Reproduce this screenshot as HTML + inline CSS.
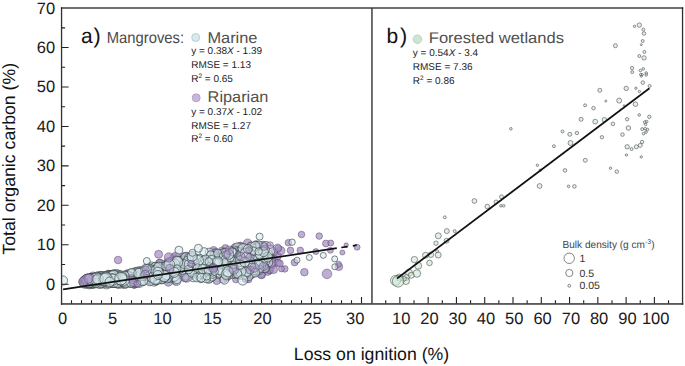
<!DOCTYPE html><html><head><meta charset="utf-8"><style>html,body{margin:0;padding:0;background:#fff;width:685px;height:366px;overflow:hidden}svg{display:block}text{font-family:"Liberation Sans",sans-serif;text-rendering:geometricPrecision}.p{fill:#a48bc2;fill-opacity:.7;stroke:#4a3a5c;stroke-opacity:.75;stroke-width:.6}.o{fill-opacity:.5}.q{fill:#d4e8ec;fill-opacity:.55;stroke:#363f41;stroke-opacity:.9;stroke-width:.7}.g{fill:#cde8d4;fill-opacity:.6;stroke:#333;stroke-opacity:.85;stroke-width:.6}</style></head><body>
<svg width="685" height="366" viewBox="0 0 685 366">
<defs><clipPath id="ca"><rect x="61.5" y="8" width="310" height="295.5"/></clipPath><clipPath id="cb"><rect x="371.5" y="8" width="311" height="295.5"/></clipPath></defs>
<g clip-path="url(#ca)">
<circle class="p" cx="213.7" cy="254.1" r="3.4"/>
<circle class="p" cx="108.6" cy="274.0" r="3.9"/>
<circle class="p" cx="190.7" cy="271.8" r="3.8"/>
<circle class="p" cx="269.8" cy="270.4" r="3.6"/>
<circle class="p" cx="92.9" cy="276.5" r="4.5"/>
<circle class="p" cx="260.4" cy="256.0" r="4.4"/>
<circle class="p" cx="238.8" cy="268.0" r="4.3"/>
<circle class="p" cx="104.8" cy="281.3" r="3.5"/>
<circle class="p" cx="254.3" cy="266.9" r="3.5"/>
<circle class="p" cx="126.8" cy="273.8" r="3.7"/>
<circle class="p" cx="162.3" cy="268.7" r="4.5"/>
<circle class="p" cx="223.8" cy="253.6" r="3.4"/>
<circle class="p" cx="108.4" cy="276.3" r="3.8"/>
<circle class="p" cx="254.6" cy="267.2" r="3.7"/>
<circle class="p" cx="115.6" cy="277.1" r="3.9"/>
<circle class="p" cx="259.6" cy="270.6" r="4.3"/>
<circle class="p" cx="199.6" cy="269.2" r="4.2"/>
<circle class="p" cx="130.3" cy="281.3" r="4.4"/>
<circle class="p" cx="119.8" cy="280.8" r="3.2"/>
<circle class="p" cx="84.4" cy="280.0" r="3.4"/>
<circle class="p" cx="213.6" cy="251.2" r="4.6"/>
<circle class="p" cx="273.7" cy="258.3" r="3.7"/>
<circle class="p" cx="159.9" cy="263.0" r="3.9"/>
<circle class="p" cx="197.7" cy="267.7" r="4.2"/>
<circle class="p" cx="173.5" cy="257.3" r="3.5"/>
<circle class="p" cx="154.0" cy="274.3" r="4.2"/>
<circle class="p" cx="190.8" cy="275.2" r="3.5"/>
<circle class="p" cx="100.6" cy="278.3" r="4.1"/>
<circle class="p" cx="103.2" cy="276.9" r="4.1"/>
<circle class="p" cx="216.1" cy="264.0" r="3.2"/>
<circle class="p" cx="210.0" cy="267.4" r="4.1"/>
<circle class="p" cx="258.9" cy="252.2" r="4.3"/>
<circle class="p" cx="215.5" cy="251.8" r="3.3"/>
<circle class="p" cx="254.0" cy="258.4" r="4.4"/>
<circle class="p" cx="105.4" cy="279.0" r="3.9"/>
<circle class="p" cx="225.4" cy="247.8" r="3.3"/>
<circle class="p" cx="172.0" cy="268.9" r="3.6"/>
<circle class="p" cx="213.9" cy="262.2" r="4.3"/>
<circle class="p" cx="256.2" cy="257.7" r="3.3"/>
<circle class="p" cx="134.5" cy="285.1" r="3.3"/>
<circle class="p" cx="196.8" cy="264.1" r="3.6"/>
<circle class="p" cx="99.2" cy="275.0" r="3.8"/>
<circle class="p" cx="108.2" cy="274.3" r="3.3"/>
<circle class="p" cx="114.4" cy="280.5" r="3.4"/>
<circle class="p" cx="127.9" cy="274.3" r="4.6"/>
<circle class="p" cx="267.7" cy="271.5" r="3.9"/>
<circle class="p" cx="136.3" cy="280.9" r="3.9"/>
<circle class="p" cx="258.9" cy="270.5" r="3.3"/>
<circle class="p" cx="128.9" cy="281.8" r="3.6"/>
<circle class="p" cx="142.3" cy="276.9" r="3.4"/>
<circle class="p" cx="233.9" cy="265.5" r="4.4"/>
<circle class="p" cx="223.2" cy="279.2" r="4.0"/>
<circle class="p" cx="233.4" cy="257.7" r="3.6"/>
<circle class="p" cx="148.1" cy="268.3" r="3.7"/>
<circle class="p" cx="199.9" cy="266.8" r="4.4"/>
<circle class="p" cx="264.8" cy="266.2" r="4.2"/>
<circle class="p" cx="129.8" cy="279.8" r="4.1"/>
<circle class="p" cx="145.1" cy="277.3" r="4.3"/>
<circle class="p" cx="237.1" cy="271.5" r="4.5"/>
<circle class="p" cx="202.9" cy="273.2" r="3.3"/>
<circle class="p" cx="226.8" cy="276.9" r="4.3"/>
<circle class="p" cx="96.4" cy="280.0" r="3.3"/>
<circle class="p" cx="230.3" cy="256.4" r="4.5"/>
<circle class="p" cx="247.2" cy="276.0" r="3.9"/>
<circle class="p" cx="140.5" cy="273.7" r="4.4"/>
<circle class="p" cx="178.4" cy="272.7" r="3.9"/>
<circle class="p" cx="149.8" cy="281.5" r="3.7"/>
<circle class="p" cx="232.9" cy="260.4" r="4.0"/>
<circle class="p" cx="162.1" cy="276.9" r="3.3"/>
<circle class="p" cx="124.2" cy="278.7" r="4.2"/>
<circle class="p" cx="278.0" cy="262.7" r="3.7"/>
<circle class="p" cx="239.6" cy="255.3" r="3.6"/>
<circle class="p" cx="117.7" cy="280.1" r="4.0"/>
<circle class="p" cx="271.5" cy="265.5" r="4.0"/>
<circle class="p" cx="246.0" cy="250.2" r="4.5"/>
<circle class="p" cx="175.4" cy="280.5" r="4.5"/>
<circle class="p" cx="253.9" cy="264.7" r="3.4"/>
<circle class="p" cx="161.1" cy="267.9" r="4.0"/>
<circle class="p" cx="169.2" cy="262.7" r="3.3"/>
<circle class="p" cx="126.9" cy="276.1" r="3.6"/>
<circle class="p" cx="239.6" cy="270.6" r="4.0"/>
<circle class="p" cx="213.8" cy="267.0" r="4.2"/>
<circle class="p" cx="256.3" cy="244.3" r="3.8"/>
<circle class="p" cx="200.4" cy="268.2" r="4.6"/>
<circle class="p" cx="113.0" cy="278.7" r="3.8"/>
<circle class="p" cx="99.1" cy="279.0" r="3.5"/>
<circle class="p" cx="164.0" cy="277.2" r="4.6"/>
<circle class="p" cx="191.8" cy="255.5" r="3.4"/>
<circle class="p" cx="277.6" cy="256.1" r="3.7"/>
<circle class="p" cx="209.9" cy="265.9" r="3.7"/>
<circle class="p" cx="239.0" cy="256.5" r="4.2"/>
<circle class="p" cx="251.9" cy="257.5" r="3.8"/>
<circle class="p" cx="239.3" cy="265.5" r="4.3"/>
<circle class="p" cx="145.7" cy="275.0" r="4.5"/>
<circle class="p" cx="247.7" cy="243.2" r="4.3"/>
<circle class="p" cx="171.3" cy="273.9" r="3.9"/>
<circle class="p" cx="253.6" cy="259.0" r="4.1"/>
<circle class="p" cx="154.3" cy="274.5" r="4.1"/>
<circle class="p" cx="149.9" cy="272.9" r="4.5"/>
<circle class="p" cx="112.8" cy="275.6" r="4.2"/>
<circle class="p" cx="125.2" cy="278.5" r="3.3"/>
<circle class="p" cx="269.4" cy="269.6" r="4.0"/>
<circle class="p" cx="252.8" cy="248.5" r="3.8"/>
<circle class="p" cx="240.6" cy="245.9" r="3.7"/>
<circle class="p" cx="261.6" cy="274.8" r="4.0"/>
<circle class="p" cx="93.7" cy="279.0" r="3.4"/>
<circle class="p" cx="113.2" cy="281.2" r="3.5"/>
<circle class="p" cx="262.7" cy="254.7" r="3.8"/>
<circle class="p" cx="126.1" cy="283.0" r="4.6"/>
<circle class="p" cx="111.4" cy="278.0" r="3.7"/>
<circle class="p" cx="89.6" cy="282.7" r="3.8"/>
<circle class="p" cx="255.5" cy="255.6" r="3.7"/>
<circle class="p" cx="265.9" cy="259.8" r="4.5"/>
<circle class="p" cx="115.5" cy="277.0" r="3.7"/>
<circle class="p" cx="177.7" cy="271.8" r="3.2"/>
<circle class="p" cx="216.8" cy="280.8" r="3.8"/>
<circle class="p" cx="141.4" cy="277.8" r="3.7"/>
<circle class="p" cx="222.1" cy="260.0" r="3.6"/>
<circle class="p" cx="133.8" cy="277.7" r="4.5"/>
<circle class="p" cx="222.8" cy="272.9" r="4.0"/>
<circle class="p" cx="235.0" cy="247.8" r="4.3"/>
<circle class="p" cx="104.3" cy="280.7" r="4.4"/>
<circle class="p" cx="202.2" cy="270.0" r="3.3"/>
<circle class="p" cx="134.4" cy="284.5" r="3.7"/>
<circle class="p" cx="188.1" cy="270.6" r="4.3"/>
<circle class="p" cx="257.4" cy="245.4" r="3.9"/>
<circle class="p" cx="110.0" cy="279.7" r="4.2"/>
<circle class="p" cx="107.5" cy="277.3" r="4.1"/>
<circle class="p" cx="171.0" cy="260.4" r="3.3"/>
<circle class="p" cx="215.0" cy="269.7" r="4.2"/>
<circle class="p" cx="232.6" cy="250.7" r="3.4"/>
<circle class="p" cx="145.1" cy="279.6" r="3.4"/>
<circle class="p" cx="250.5" cy="275.8" r="3.5"/>
<circle class="p" cx="261.2" cy="263.1" r="4.3"/>
<circle class="p" cx="239.9" cy="246.2" r="3.8"/>
<circle class="p" cx="168.3" cy="281.8" r="4.4"/>
<circle class="p" cx="184.9" cy="257.3" r="3.8"/>
<circle class="p" cx="245.7" cy="278.8" r="3.7"/>
<circle class="p" cx="273.6" cy="269.6" r="4.0"/>
<circle class="p" cx="183.7" cy="256.3" r="3.6"/>
<circle class="p" cx="198.7" cy="276.5" r="4.0"/>
<circle class="p" cx="256.9" cy="272.4" r="4.0"/>
<circle class="p" cx="149.4" cy="277.5" r="4.0"/>
<circle class="p" cx="272.5" cy="259.1" r="3.2"/>
<circle class="p" cx="176.4" cy="276.3" r="3.4"/>
<circle class="p" cx="271.2" cy="263.3" r="4.1"/>
<circle class="p" cx="92.5" cy="282.1" r="3.8"/>
<circle class="p" cx="159.6" cy="263.8" r="4.5"/>
<circle class="p" cx="235.8" cy="279.6" r="3.3"/>
<circle class="p" cx="244.6" cy="254.5" r="3.9"/>
<circle class="p" cx="263.1" cy="266.9" r="3.4"/>
<circle class="p" cx="110.6" cy="283.5" r="3.7"/>
<circle class="p" cx="280.8" cy="250.8" r="4.1"/>
<circle class="p" cx="184.4" cy="270.0" r="3.7"/>
<circle class="p" cx="110.8" cy="279.2" r="4.0"/>
<circle class="p" cx="186.1" cy="255.8" r="3.8"/>
<circle class="p" cx="222.0" cy="250.4" r="3.5"/>
<circle class="p" cx="175.6" cy="256.7" r="4.5"/>
<circle class="p" cx="99.8" cy="278.6" r="4.1"/>
<circle class="p" cx="241.3" cy="254.0" r="3.4"/>
<circle class="p" cx="91.8" cy="283.5" r="3.4"/>
<circle class="p" cx="94.2" cy="277.5" r="3.9"/>
<circle class="p" cx="176.9" cy="270.4" r="3.4"/>
<circle class="p" cx="119.8" cy="283.9" r="3.3"/>
<circle class="p" cx="206.2" cy="267.5" r="3.5"/>
<circle class="p" cx="96.4" cy="276.2" r="4.0"/>
<circle class="p" cx="119.0" cy="280.9" r="4.1"/>
<circle class="p" cx="106.8" cy="281.3" r="4.2"/>
<circle class="p" cx="214.4" cy="253.4" r="4.3"/>
<circle class="p" cx="147.2" cy="275.9" r="4.2"/>
<circle class="p" cx="278.1" cy="248.1" r="3.2"/>
<circle class="p" cx="241.7" cy="248.4" r="4.1"/>
<circle class="p" cx="260.2" cy="254.4" r="3.4"/>
<circle class="p" cx="84.2" cy="282.4" r="3.3"/>
<circle class="p" cx="249.8" cy="273.8" r="4.3"/>
<circle class="p" cx="260.9" cy="274.1" r="4.1"/>
<circle class="p" cx="119.5" cy="277.7" r="3.9"/>
<circle class="p" cx="205.0" cy="263.0" r="3.5"/>
<circle class="p" cx="251.9" cy="252.2" r="3.7"/>
<circle class="p" cx="149.0" cy="276.0" r="3.6"/>
<circle class="p" cx="126.3" cy="280.7" r="4.3"/>
<circle class="p" cx="133.4" cy="272.5" r="3.3"/>
<circle class="p" cx="206.1" cy="266.6" r="4.6"/>
<circle class="p" cx="229.1" cy="262.9" r="4.2"/>
<circle class="p" cx="249.1" cy="253.5" r="3.8"/>
<circle class="p" cx="274.3" cy="252.0" r="3.4"/>
<circle class="p" cx="265.6" cy="269.3" r="3.7"/>
<circle class="p" cx="248.6" cy="271.1" r="3.5"/>
<circle class="p" cx="105.3" cy="278.8" r="4.5"/>
<circle class="p" cx="87.2" cy="278.3" r="3.7"/>
<circle class="p" cx="144.4" cy="269.6" r="4.2"/>
<circle class="p" cx="188.7" cy="257.8" r="3.7"/>
<circle class="p" cx="176.8" cy="262.0" r="3.4"/>
<circle class="p" cx="248.6" cy="279.5" r="3.4"/>
<circle class="p" cx="240.3" cy="265.4" r="3.5"/>
<circle class="p" cx="90.4" cy="281.2" r="4.3"/>
<circle class="p" cx="264.1" cy="254.2" r="3.3"/>
<circle class="p" cx="197.9" cy="272.7" r="4.3"/>
<circle class="p" cx="102.6" cy="281.1" r="3.6"/>
<circle class="p" cx="168.0" cy="261.3" r="3.5"/>
<circle class="p" cx="176.4" cy="272.1" r="3.6"/>
<circle class="p" cx="176.9" cy="272.2" r="3.9"/>
<circle class="p" cx="245.8" cy="265.5" r="3.7"/>
<circle class="p" cx="135.5" cy="271.4" r="3.3"/>
<circle class="p" cx="143.4" cy="277.6" r="3.7"/>
<circle class="p" cx="245.9" cy="248.0" r="3.8"/>
<circle class="p" cx="205.2" cy="260.4" r="3.8"/>
<circle class="p" cx="235.7" cy="271.6" r="3.7"/>
<circle class="p" cx="123.7" cy="280.9" r="4.5"/>
<circle class="p" cx="119.6" cy="281.3" r="3.4"/>
<circle class="p" cx="108.4" cy="277.6" r="4.1"/>
<circle class="p" cx="108.0" cy="278.0" r="3.9"/>
<circle class="p" cx="183.5" cy="272.9" r="4.1"/>
<circle class="p" cx="235.4" cy="272.2" r="4.0"/>
<circle class="p" cx="165.6" cy="264.6" r="4.6"/>
<circle class="p" cx="238.3" cy="275.3" r="3.4"/>
<circle class="p" cx="86.4" cy="282.2" r="4.4"/>
<circle class="q" cx="111.7" cy="276.4" r="5.6"/>
<circle class="q" cx="175.8" cy="265.6" r="4.1"/>
<circle class="q" cx="233.3" cy="256.8" r="3.8"/>
<circle class="q" cx="155.9" cy="267.8" r="5.6"/>
<circle class="q" cx="105.7" cy="281.8" r="5.0"/>
<circle class="q" cx="151.5" cy="266.9" r="4.9"/>
<circle class="q" cx="161.5" cy="273.8" r="4.5"/>
<circle class="q" cx="210.3" cy="268.8" r="4.0"/>
<circle class="q" cx="136.3" cy="273.6" r="5.6"/>
<circle class="q" cx="172.5" cy="274.4" r="4.1"/>
<circle class="q" cx="141.0" cy="277.4" r="5.1"/>
<circle class="q" cx="254.5" cy="263.4" r="4.4"/>
<circle class="q" cx="263.3" cy="253.3" r="4.9"/>
<circle class="q" cx="167.6" cy="264.4" r="4.3"/>
<circle class="q" cx="129.1" cy="281.3" r="4.6"/>
<circle class="q" cx="243.5" cy="270.7" r="4.9"/>
<circle class="q" cx="243.7" cy="249.5" r="5.1"/>
<circle class="q" cx="171.8" cy="264.8" r="4.9"/>
<circle class="q" cx="186.4" cy="271.9" r="5.1"/>
<circle class="q" cx="94.2" cy="282.1" r="6.0"/>
<circle class="q" cx="156.3" cy="274.1" r="4.2"/>
<circle class="q" cx="113.7" cy="274.9" r="5.1"/>
<circle class="q" cx="149.9" cy="280.0" r="4.0"/>
<circle class="q" cx="147.0" cy="271.4" r="4.6"/>
<circle class="q" cx="171.6" cy="261.8" r="4.1"/>
<circle class="q" cx="113.6" cy="282.8" r="4.5"/>
<circle class="q" cx="89.4" cy="283.4" r="5.4"/>
<circle class="q" cx="150.5" cy="279.3" r="4.3"/>
<circle class="q" cx="124.6" cy="283.3" r="5.3"/>
<circle class="q" cx="217.7" cy="263.2" r="4.0"/>
<circle class="q" cx="134.8" cy="280.1" r="4.4"/>
<circle class="q" cx="262.3" cy="253.5" r="5.1"/>
<circle class="q" cx="121.3" cy="282.1" r="5.6"/>
<circle class="q" cx="228.4" cy="270.6" r="3.7"/>
<circle class="q" cx="170.5" cy="276.5" r="4.3"/>
<circle class="q" cx="155.8" cy="280.4" r="4.6"/>
<circle class="q" cx="111.7" cy="281.2" r="6.0"/>
<circle class="q" cx="269.1" cy="256.3" r="4.2"/>
<circle class="q" cx="201.4" cy="277.5" r="4.4"/>
<circle class="q" cx="122.5" cy="276.5" r="4.4"/>
<circle class="q" cx="159.9" cy="279.5" r="4.2"/>
<circle class="q" cx="247.3" cy="273.0" r="4.3"/>
<circle class="q" cx="87.9" cy="279.5" r="5.2"/>
<circle class="q" cx="169.7" cy="271.6" r="5.2"/>
<circle class="q" cx="225.7" cy="263.8" r="3.8"/>
<circle class="q" cx="175.9" cy="275.2" r="4.9"/>
<circle class="q" cx="175.5" cy="273.1" r="4.8"/>
<circle class="q" cx="254.0" cy="270.7" r="4.7"/>
<circle class="q" cx="254.3" cy="248.5" r="4.9"/>
<circle class="q" cx="127.8" cy="281.0" r="4.1"/>
<circle class="q" cx="213.4" cy="259.0" r="4.7"/>
<circle class="q" cx="256.0" cy="261.9" r="4.2"/>
<circle class="q" cx="162.2" cy="269.3" r="4.8"/>
<circle class="q" cx="88.0" cy="280.4" r="5.4"/>
<circle class="q" cx="176.7" cy="281.2" r="4.1"/>
<circle class="q" cx="132.3" cy="280.1" r="4.1"/>
<circle class="q" cx="248.6" cy="254.2" r="4.9"/>
<circle class="q" cx="210.6" cy="254.5" r="3.7"/>
<circle class="q" cx="253.4" cy="267.9" r="4.6"/>
<circle class="q" cx="239.8" cy="259.0" r="4.3"/>
<circle class="q" cx="107.8" cy="277.2" r="5.4"/>
<circle class="q" cx="120.8" cy="277.2" r="5.0"/>
<circle class="q" cx="116.5" cy="274.5" r="5.1"/>
<circle class="q" cx="183.7" cy="267.3" r="3.9"/>
<circle class="q" cx="162.3" cy="277.9" r="4.8"/>
<circle class="q" cx="261.3" cy="268.5" r="4.1"/>
<circle class="q" cx="147.1" cy="269.4" r="4.1"/>
<circle class="q" cx="113.9" cy="282.7" r="4.6"/>
<circle class="q" cx="128.1" cy="277.5" r="4.5"/>
<circle class="q" cx="257.6" cy="261.0" r="5.2"/>
<circle class="q" cx="148.7" cy="273.1" r="4.0"/>
<circle class="q" cx="175.4" cy="263.1" r="4.0"/>
<circle class="q" cx="88.5" cy="279.7" r="5.0"/>
<circle class="q" cx="202.9" cy="274.3" r="4.7"/>
<circle class="q" cx="265.5" cy="261.0" r="4.8"/>
<circle class="q" cx="197.4" cy="272.9" r="4.8"/>
<circle class="q" cx="234.8" cy="273.5" r="4.9"/>
<circle class="q" cx="209.3" cy="252.2" r="4.0"/>
<circle class="q" cx="234.9" cy="267.4" r="4.5"/>
<circle class="q" cx="85.1" cy="282.0" r="5.9"/>
<circle class="q" cx="96.4" cy="278.7" r="5.8"/>
<circle class="q" cx="121.4" cy="282.1" r="5.8"/>
<circle class="q" cx="207.6" cy="267.8" r="4.8"/>
<circle class="q" cx="130.2" cy="276.0" r="5.2"/>
<circle class="q" cx="132.9" cy="279.6" r="5.1"/>
<circle class="q" cx="168.1" cy="265.1" r="4.7"/>
<circle class="q" cx="253.0" cy="261.6" r="3.6"/>
<circle class="q" cx="132.9" cy="282.3" r="4.3"/>
<circle class="q" cx="178.8" cy="262.0" r="5.5"/>
<circle class="q" cx="211.1" cy="274.1" r="4.0"/>
<circle class="q" cx="173.0" cy="265.1" r="4.7"/>
<circle class="q" cx="235.7" cy="270.0" r="3.6"/>
<circle class="q" cx="212.8" cy="259.5" r="5.0"/>
<circle class="q" cx="268.6" cy="254.2" r="4.2"/>
<circle class="q" cx="234.7" cy="273.7" r="4.1"/>
<circle class="q" cx="118.7" cy="283.3" r="5.1"/>
<circle class="q" cx="248.9" cy="261.1" r="5.1"/>
<circle class="q" cx="165.7" cy="273.2" r="5.2"/>
<circle class="q" cx="107.4" cy="278.6" r="5.3"/>
<circle class="q" cx="131.3" cy="276.1" r="5.0"/>
<circle class="q" cx="113.6" cy="282.2" r="4.9"/>
<circle class="q" cx="263.9" cy="247.1" r="4.3"/>
<circle class="q" cx="100.9" cy="278.7" r="4.9"/>
<circle class="q" cx="158.8" cy="273.2" r="4.7"/>
<circle class="q" cx="134.5" cy="274.1" r="5.5"/>
<circle class="q" cx="123.4" cy="276.1" r="4.4"/>
<circle class="q" cx="237.3" cy="247.9" r="5.0"/>
<circle class="q" cx="169.7" cy="263.0" r="4.9"/>
<circle class="q" cx="238.5" cy="252.5" r="5.2"/>
<circle class="q" cx="207.3" cy="272.3" r="5.1"/>
<circle class="q" cx="183.8" cy="274.7" r="3.7"/>
<circle class="q" cx="139.2" cy="274.0" r="4.2"/>
<circle class="q" cx="97.2" cy="280.5" r="5.4"/>
<circle class="q" cx="86.4" cy="281.3" r="5.0"/>
<circle class="q" cx="170.1" cy="267.8" r="4.4"/>
<circle class="q" cx="88.4" cy="281.6" r="5.3"/>
<circle class="q" cx="251.0" cy="245.9" r="4.0"/>
<circle class="q" cx="120.2" cy="280.3" r="5.9"/>
<circle class="q" cx="140.6" cy="273.3" r="5.3"/>
<circle class="q" cx="255.8" cy="249.6" r="4.4"/>
<circle class="q" cx="255.3" cy="257.1" r="3.8"/>
<circle class="q" cx="93.8" cy="280.5" r="4.6"/>
<circle class="q" cx="264.1" cy="254.6" r="5.1"/>
<circle class="q" cx="90.2" cy="280.1" r="5.6"/>
<circle class="q" cx="85.0" cy="280.7" r="5.0"/>
<circle class="q" cx="121.8" cy="282.0" r="4.6"/>
<circle class="q" cx="169.7" cy="277.6" r="4.6"/>
<circle class="q" cx="90.0" cy="282.3" r="5.2"/>
<circle class="q" cx="95.8" cy="279.7" r="6.1"/>
<circle class="q" cx="133.5" cy="278.7" r="5.5"/>
<circle class="q" cx="134.1" cy="281.3" r="4.0"/>
<circle class="q" cx="88.9" cy="281.4" r="4.9"/>
<circle class="q" cx="129.7" cy="278.3" r="4.7"/>
<circle class="q" cx="217.4" cy="271.5" r="4.9"/>
<circle class="q" cx="149.6" cy="269.0" r="5.3"/>
<circle class="q" cx="96.2" cy="281.0" r="4.6"/>
<circle class="q" cx="262.3" cy="246.2" r="4.0"/>
<circle class="q" cx="165.0" cy="271.6" r="4.4"/>
<circle class="q" cx="237.0" cy="251.9" r="4.7"/>
<circle class="q" cx="151.6" cy="269.4" r="5.2"/>
<circle class="q" cx="243.7" cy="257.8" r="4.5"/>
<circle class="q" cx="126.1" cy="279.9" r="5.3"/>
<circle class="q" cx="231.9" cy="272.1" r="4.9"/>
<circle class="q" cx="118.6" cy="279.7" r="6.2"/>
<circle class="q" cx="165.3" cy="277.1" r="4.4"/>
<circle class="q" cx="196.1" cy="262.0" r="3.9"/>
<circle class="q" cx="192.4" cy="258.8" r="4.6"/>
<circle class="q" cx="117.8" cy="276.9" r="5.0"/>
<circle class="q" cx="102.7" cy="280.0" r="5.2"/>
<circle class="q" cx="209.7" cy="261.1" r="4.3"/>
<circle class="q" cx="186.5" cy="268.1" r="4.2"/>
<circle class="q" cx="120.0" cy="276.6" r="5.7"/>
<circle class="q" cx="232.2" cy="272.6" r="4.2"/>
<circle class="q" cx="183.8" cy="275.8" r="4.6"/>
<circle class="q" cx="175.3" cy="266.1" r="4.2"/>
<circle class="q" cx="172.8" cy="277.0" r="5.3"/>
<circle class="q" cx="260.1" cy="247.8" r="4.4"/>
<circle class="q" cx="196.2" cy="259.6" r="4.9"/>
<circle class="q" cx="236.8" cy="252.0" r="4.9"/>
<circle class="q" cx="153.5" cy="271.4" r="4.2"/>
<circle class="q" cx="185.7" cy="257.6" r="4.8"/>
<circle class="q" cx="183.5" cy="263.6" r="4.6"/>
<circle class="q" cx="203.1" cy="263.9" r="4.3"/>
<circle class="q" cx="126.8" cy="280.5" r="5.2"/>
<circle class="q" cx="103.8" cy="278.9" r="4.7"/>
<circle class="q" cx="91.8" cy="279.0" r="5.6"/>
<circle class="q" cx="94.3" cy="279.9" r="5.4"/>
<circle class="q" cx="263.8" cy="266.4" r="4.8"/>
<circle class="q" cx="256.7" cy="252.8" r="5.1"/>
<circle class="q" cx="147.7" cy="270.9" r="5.2"/>
<circle class="q" cx="110.3" cy="281.9" r="5.4"/>
<circle class="q" cx="141.9" cy="272.0" r="4.1"/>
<circle class="q" cx="245.7" cy="268.3" r="3.9"/>
<circle class="q" cx="149.3" cy="276.3" r="5.4"/>
<circle class="q" cx="263.2" cy="255.9" r="4.6"/>
<circle class="q" cx="268.5" cy="262.5" r="4.2"/>
<circle class="q" cx="93.2" cy="279.9" r="5.9"/>
<circle class="q" cx="204.0" cy="251.8" r="4.1"/>
<circle class="q" cx="162.3" cy="277.8" r="4.8"/>
<circle class="q" cx="88.5" cy="279.8" r="4.5"/>
<circle class="q" cx="189.5" cy="261.1" r="4.5"/>
<circle class="q" cx="253.1" cy="248.9" r="4.0"/>
<circle class="q" cx="225.3" cy="256.1" r="4.2"/>
<circle class="q" cx="147.6" cy="275.5" r="5.0"/>
<circle class="q" cx="247.1" cy="260.5" r="3.7"/>
<circle class="q" cx="224.7" cy="265.7" r="3.6"/>
<circle class="q" cx="194.0" cy="270.3" r="4.4"/>
<circle class="q" cx="138.5" cy="282.4" r="4.1"/>
<circle class="q" cx="236.5" cy="262.1" r="4.8"/>
<circle class="q" cx="103.5" cy="276.6" r="4.9"/>
<circle class="q" cx="236.7" cy="255.7" r="4.7"/>
<circle class="q" cx="178.7" cy="271.9" r="4.4"/>
<circle class="q" cx="87.2" cy="280.3" r="4.9"/>
<circle class="q" cx="143.3" cy="274.1" r="5.4"/>
<circle class="q" cx="209.2" cy="278.2" r="4.7"/>
<circle class="q" cx="238.9" cy="268.4" r="4.3"/>
<circle class="q" cx="196.6" cy="274.3" r="3.7"/>
<circle class="q" cx="251.7" cy="246.6" r="4.2"/>
<circle class="q" cx="198.6" cy="271.2" r="4.7"/>
<circle class="q" cx="231.7" cy="273.6" r="4.9"/>
<circle class="q" cx="254.5" cy="248.1" r="3.8"/>
<circle class="q" cx="230.7" cy="272.0" r="4.6"/>
<circle class="q" cx="102.1" cy="278.1" r="5.8"/>
<circle class="q" cx="130.7" cy="279.9" r="4.5"/>
<circle class="q" cx="175.2" cy="270.3" r="5.4"/>
<circle class="q" cx="223.6" cy="268.8" r="4.2"/>
<circle class="q" cx="100.9" cy="277.7" r="5.9"/>
<circle class="q" cx="260.5" cy="259.4" r="3.6"/>
<circle class="q" cx="173.5" cy="276.8" r="4.6"/>
<circle class="q" cx="123.1" cy="278.4" r="5.1"/>
<circle class="q" cx="226.3" cy="271.4" r="4.7"/>
<circle class="q" cx="155.5" cy="267.9" r="5.4"/>
<circle class="q" cx="131.9" cy="278.2" r="5.4"/>
<circle class="q" cx="167.5" cy="276.8" r="4.9"/>
<circle class="q" cx="143.3" cy="281.2" r="4.2"/>
<circle class="q" cx="163.5" cy="273.0" r="5.2"/>
<circle class="q" cx="127.3" cy="277.1" r="4.3"/>
<circle class="q" cx="112.6" cy="277.6" r="4.9"/>
<circle class="q" cx="118.6" cy="280.5" r="6.2"/>
<circle class="q" cx="153.7" cy="278.3" r="5.6"/>
<circle class="q" cx="199.3" cy="258.0" r="3.8"/>
<circle class="q" cx="226.9" cy="264.0" r="4.7"/>
<circle class="q" cx="193.2" cy="273.6" r="4.2"/>
<circle class="q" cx="219.3" cy="259.3" r="4.3"/>
<circle class="q" cx="210.5" cy="270.2" r="5.0"/>
<circle class="q" cx="197.6" cy="266.5" r="3.8"/>
<circle class="q" cx="129.5" cy="277.9" r="4.7"/>
<circle class="q" cx="251.9" cy="265.1" r="3.9"/>
<circle class="q" cx="259.9" cy="259.8" r="3.7"/>
<circle class="q" cx="178.0" cy="270.9" r="4.2"/>
<circle class="q" cx="199.6" cy="268.2" r="4.9"/>
<circle class="q" cx="207.7" cy="272.7" r="4.2"/>
<circle class="q" cx="94.7" cy="279.4" r="5.0"/>
<circle class="q" cx="210.2" cy="259.6" r="4.2"/>
<circle class="q" cx="179.4" cy="273.6" r="4.4"/>
<circle class="q" cx="224.3" cy="267.6" r="4.9"/>
<circle class="q" cx="258.0" cy="265.1" r="4.2"/>
<circle class="q" cx="137.5" cy="273.0" r="4.9"/>
<circle class="q" cx="132.6" cy="274.7" r="4.6"/>
<circle class="q" cx="214.4" cy="257.8" r="4.0"/>
<circle class="q" cx="199.2" cy="265.9" r="4.7"/>
<circle class="q" cx="233.5" cy="270.6" r="5.0"/>
<circle class="q" cx="87.2" cy="283.5" r="4.5"/>
<circle class="q" cx="110.2" cy="281.1" r="4.9"/>
<circle class="q" cx="227.0" cy="276.2" r="3.9"/>
<circle class="q" cx="245.4" cy="270.3" r="4.9"/>
<circle class="q" cx="218.0" cy="274.2" r="4.3"/>
<circle class="q" cx="109.6" cy="276.0" r="5.3"/>
<circle class="q" cx="174.2" cy="276.3" r="4.9"/>
<circle class="q" cx="185.8" cy="274.5" r="4.7"/>
<circle class="q" cx="98.1" cy="280.7" r="5.6"/>
<circle class="q" cx="252.2" cy="273.7" r="4.1"/>
<circle class="q" cx="90.6" cy="281.4" r="5.7"/>
<circle class="q" cx="169.9" cy="275.0" r="4.8"/>
<circle class="q" cx="184.2" cy="264.0" r="4.9"/>
<circle class="q" cx="133.4" cy="283.1" r="4.8"/>
<circle class="q" cx="141.6" cy="277.9" r="4.5"/>
<circle class="q" cx="214.6" cy="264.2" r="5.0"/>
<circle class="q" cx="118.7" cy="280.0" r="6.1"/>
<circle class="q" cx="194.6" cy="270.7" r="4.6"/>
<circle class="q" cx="122.8" cy="278.2" r="5.1"/>
<circle class="q" cx="91.2" cy="282.5" r="5.8"/>
<circle class="q" cx="226.1" cy="256.2" r="4.5"/>
<circle class="q" cx="162.0" cy="278.8" r="5.0"/>
<circle class="q" cx="105.9" cy="280.4" r="5.9"/>
<circle class="q" cx="154.2" cy="281.2" r="4.9"/>
<circle class="q" cx="102.9" cy="277.5" r="5.6"/>
<circle class="q" cx="207.6" cy="277.6" r="3.8"/>
<circle class="q" cx="87.7" cy="280.1" r="5.7"/>
<circle class="q" cx="223.8" cy="272.9" r="4.7"/>
<circle class="q" cx="212.2" cy="277.0" r="4.3"/>
<circle class="q" cx="86.6" cy="281.9" r="4.5"/>
<circle class="q" cx="215.8" cy="273.1" r="3.9"/>
<circle class="q" cx="188.0" cy="271.3" r="4.3"/>
<circle class="q" cx="200.6" cy="265.3" r="4.6"/>
<circle class="q" cx="225.7" cy="258.2" r="4.5"/>
<circle class="q" cx="233.4" cy="268.9" r="4.1"/>
<circle class="q" cx="140.0" cy="281.2" r="4.7"/>
<circle class="q" cx="245.8" cy="252.4" r="4.9"/>
<circle class="q" cx="190.1" cy="275.4" r="4.9"/>
<circle class="q" cx="240.6" cy="257.7" r="4.5"/>
<circle class="q" cx="249.0" cy="249.8" r="4.2"/>
<circle class="q" cx="219.5" cy="258.7" r="5.1"/>
<circle class="q" cx="121.7" cy="281.4" r="4.4"/>
<circle class="q" cx="229.7" cy="257.6" r="4.8"/>
<circle class="q" cx="178.4" cy="268.7" r="4.8"/>
<circle class="q" cx="210.7" cy="266.9" r="4.2"/>
<circle class="q" cx="92.5" cy="280.0" r="6.2"/>
<circle class="q" cx="112.6" cy="277.8" r="5.5"/>
<circle class="q" cx="262.8" cy="257.5" r="5.0"/>
<circle class="q" cx="161.2" cy="278.3" r="5.5"/>
<circle class="q" cx="91.3" cy="278.3" r="4.8"/>
<circle class="q" cx="241.2" cy="275.0" r="4.3"/>
<circle class="q" cx="156.0" cy="280.7" r="4.2"/>
<circle class="q" cx="256.7" cy="255.1" r="4.7"/>
<circle class="q" cx="263.0" cy="245.2" r="4.0"/>
<circle class="q" cx="247.3" cy="249.9" r="4.9"/>
<circle class="q" cx="261.9" cy="251.3" r="3.7"/>
<circle class="q" cx="138.3" cy="278.9" r="4.9"/>
<circle class="q" cx="106.8" cy="276.8" r="5.3"/>
<circle class="q" cx="86.8" cy="280.1" r="5.7"/>
<circle class="q" cx="252.6" cy="269.1" r="5.0"/>
<circle class="q" cx="251.7" cy="262.9" r="4.9"/>
<circle class="q" cx="170.5" cy="262.9" r="5.0"/>
<circle class="q" cx="184.1" cy="275.3" r="3.8"/>
<circle class="q" cx="133.3" cy="275.7" r="5.3"/>
<circle class="q" cx="247.1" cy="274.9" r="3.8"/>
<circle class="q" cx="122.5" cy="276.2" r="4.8"/>
<circle class="q" cx="262.9" cy="266.7" r="5.2"/>
<circle class="q" cx="94.8" cy="279.5" r="5.7"/>
<circle class="q" cx="145.9" cy="269.0" r="4.2"/>
<circle class="q" cx="162.8" cy="268.0" r="5.5"/>
<circle class="q" cx="223.2" cy="253.3" r="4.7"/>
<circle class="q" cx="173.7" cy="264.9" r="4.4"/>
<circle class="q" cx="189.4" cy="257.8" r="3.9"/>
<circle class="q" cx="94.5" cy="280.1" r="5.9"/>
<circle class="q" cx="87.3" cy="281.1" r="6.0"/>
<circle class="q" cx="234.2" cy="252.8" r="4.2"/>
<circle class="q" cx="178.1" cy="268.5" r="4.7"/>
<circle class="q" cx="240.3" cy="268.8" r="4.1"/>
<circle class="q" cx="241.6" cy="261.7" r="5.1"/>
<circle class="q" cx="88.2" cy="279.9" r="6.1"/>
<circle class="q" cx="231.6" cy="250.7" r="3.6"/>
<circle class="q" cx="192.4" cy="267.2" r="4.5"/>
<circle class="q" cx="213.6" cy="255.2" r="3.7"/>
<circle class="q" cx="106.5" cy="277.5" r="5.2"/>
<circle class="q" cx="187.6" cy="262.3" r="4.8"/>
<circle class="q" cx="160.2" cy="274.1" r="5.3"/>
<circle class="q" cx="145.4" cy="273.9" r="4.4"/>
<circle class="q" cx="248.8" cy="268.7" r="4.9"/>
<circle class="q" cx="252.7" cy="257.7" r="4.0"/>
<circle class="q" cx="97.0" cy="279.7" r="5.2"/>
<circle class="q" cx="224.3" cy="269.7" r="5.1"/>
<circle class="q" cx="90.7" cy="279.7" r="5.6"/>
<circle class="q" cx="250.9" cy="253.1" r="4.6"/>
<circle class="q" cx="136.3" cy="278.4" r="4.5"/>
<circle class="q" cx="177.0" cy="267.4" r="4.4"/>
<circle class="q" cx="108.1" cy="278.4" r="5.0"/>
<circle class="q" cx="182.8" cy="270.7" r="4.9"/>
<circle class="q" cx="212.4" cy="266.8" r="4.3"/>
<circle class="q" cx="128.1" cy="278.4" r="4.4"/>
<circle class="q" cx="148.0" cy="271.8" r="5.4"/>
<circle class="q" cx="262.3" cy="263.0" r="4.1"/>
<circle class="q" cx="163.7" cy="271.1" r="4.1"/>
<circle class="q" cx="125.0" cy="279.9" r="5.5"/>
<circle class="q" cx="206.1" cy="275.4" r="4.6"/>
<circle class="q" cx="218.3" cy="265.6" r="4.8"/>
<circle class="q" cx="107.4" cy="277.0" r="6.0"/>
<circle class="q" cx="257.8" cy="259.1" r="4.5"/>
<circle class="q" cx="152.8" cy="273.6" r="4.7"/>
<circle class="q" cx="184.5" cy="265.5" r="4.2"/>
<circle class="q" cx="164.4" cy="268.6" r="4.3"/>
<circle class="q" cx="100.3" cy="279.6" r="6.1"/>
<circle class="q" cx="121.3" cy="281.2" r="5.2"/>
<circle class="q" cx="174.0" cy="275.9" r="5.5"/>
<circle class="q" cx="177.6" cy="266.4" r="5.1"/>
<circle class="q" cx="255.1" cy="258.4" r="4.7"/>
<circle class="q" cx="185.5" cy="277.2" r="4.5"/>
<circle class="q" cx="196.9" cy="264.5" r="5.2"/>
<circle class="q" cx="141.8" cy="279.2" r="5.6"/>
<circle class="q" cx="208.7" cy="278.3" r="4.9"/>
<circle class="q" cx="136.7" cy="276.2" r="4.8"/>
<circle class="q" cx="193.1" cy="277.6" r="4.2"/>
<circle class="q" cx="226.3" cy="266.6" r="4.1"/>
<circle class="q" cx="190.0" cy="260.9" r="4.7"/>
<circle class="q" cx="200.9" cy="278.1" r="4.5"/>
<circle class="q" cx="112.7" cy="276.1" r="5.8"/>
<circle class="q" cx="232.7" cy="268.3" r="4.6"/>
<circle class="q" cx="142.6" cy="273.4" r="5.1"/>
<circle class="q" cx="247.2" cy="255.9" r="4.5"/>
<circle class="q" cx="244.8" cy="274.7" r="4.5"/>
<circle class="q" cx="92.4" cy="282.2" r="6.1"/>
<circle class="q" cx="139.2" cy="282.5" r="5.0"/>
<circle class="q" cx="154.7" cy="270.3" r="5.1"/>
<circle class="q" cx="227.2" cy="252.7" r="4.0"/>
<circle class="q" cx="136.8" cy="272.7" r="4.9"/>
<circle class="q" cx="96.3" cy="282.2" r="4.7"/>
<circle class="q" cx="135.5" cy="271.9" r="4.4"/>
<circle class="q" cx="211.6" cy="259.3" r="3.7"/>
<circle class="q" cx="235.0" cy="253.3" r="4.9"/>
<circle class="q" cx="257.0" cy="271.0" r="3.9"/>
<circle class="q" cx="108.1" cy="278.4" r="5.7"/>
<circle class="q" cx="128.8" cy="275.7" r="5.0"/>
<circle class="q" cx="182.2" cy="274.1" r="4.0"/>
<circle class="q" cx="140.4" cy="271.4" r="4.6"/>
<circle class="q" cx="203.8" cy="267.4" r="3.8"/>
<circle class="q" cx="96.4" cy="278.5" r="5.0"/>
<circle class="q" cx="157.1" cy="278.8" r="5.5"/>
<circle class="q" cx="134.3" cy="279.6" r="4.0"/>
<circle class="q" cx="203.1" cy="261.2" r="4.7"/>
<circle class="q" cx="117.2" cy="283.1" r="4.7"/>
<circle class="q" cx="91.7" cy="278.7" r="4.8"/>
<circle class="q" cx="140.5" cy="273.2" r="5.0"/>
<circle class="q" cx="130.3" cy="279.2" r="4.7"/>
<circle class="q" cx="224.3" cy="252.9" r="4.1"/>
<circle class="q" cx="128.5" cy="281.5" r="4.2"/>
<circle class="q" cx="100.0" cy="279.9" r="5.7"/>
<circle class="q" cx="100.7" cy="280.0" r="6.1"/>
<circle class="q" cx="233.9" cy="260.5" r="4.6"/>
<circle class="q" cx="176.6" cy="261.5" r="5.5"/>
<circle class="q" cx="229.5" cy="266.8" r="4.0"/>
<circle class="q" cx="129.4" cy="276.3" r="4.1"/>
<circle class="q" cx="109.1" cy="280.2" r="5.7"/>
<circle class="q" cx="164.6" cy="270.6" r="5.5"/>
<circle class="q" cx="185.9" cy="275.6" r="4.1"/>
<circle class="q" cx="204.5" cy="267.1" r="4.6"/>
<circle class="q" cx="136.6" cy="272.8" r="4.6"/>
<circle class="q" cx="210.8" cy="255.2" r="4.3"/>
<circle class="q" cx="114.8" cy="275.8" r="4.6"/>
<circle class="q" cx="213.6" cy="265.5" r="5.2"/>
<circle class="q" cx="118.7" cy="275.7" r="5.4"/>
<circle class="q" cx="252.8" cy="250.9" r="4.6"/>
<circle class="q" cx="223.9" cy="258.1" r="4.9"/>
<circle class="q" cx="251.3" cy="270.5" r="3.9"/>
<circle class="q" cx="117.7" cy="277.7" r="5.9"/>
<circle class="q" cx="234.2" cy="249.9" r="4.0"/>
<circle class="q" cx="211.5" cy="276.1" r="5.0"/>
<circle class="q" cx="138.4" cy="271.8" r="4.9"/>
<circle class="q" cx="259.1" cy="244.7" r="3.7"/>
<circle class="q" cx="85.0" cy="282.3" r="5.9"/>
<circle class="q" cx="203.6" cy="263.8" r="4.4"/>
<circle class="q" cx="233.2" cy="252.7" r="5.0"/>
<circle class="q" cx="147.2" cy="268.9" r="4.3"/>
<circle class="q" cx="248.1" cy="275.8" r="5.0"/>
<circle class="q" cx="95.3" cy="280.9" r="5.6"/>
<circle class="q" cx="171.0" cy="267.6" r="5.0"/>
<circle class="q" cx="118.5" cy="278.3" r="5.7"/>
<circle class="q" cx="189.0" cy="268.0" r="4.3"/>
<circle class="q" cx="117.0" cy="279.3" r="6.0"/>
<circle class="q" cx="101.6" cy="278.4" r="5.4"/>
<circle class="q" cx="187.6" cy="266.9" r="3.8"/>
<circle class="q" cx="97.7" cy="282.6" r="5.2"/>
<circle class="q" cx="105.1" cy="280.9" r="6.2"/>
<circle class="q" cx="115.3" cy="279.5" r="6.1"/>
<circle class="q" cx="94.9" cy="279.4" r="4.9"/>
<circle class="q" cx="138.5" cy="276.6" r="5.1"/>
<circle class="q" cx="185.8" cy="275.2" r="5.1"/>
<circle class="q" cx="222.0" cy="271.2" r="4.7"/>
<circle class="q" cx="255.1" cy="246.2" r="4.8"/>
<circle class="q" cx="229.0" cy="275.4" r="3.8"/>
<circle class="q" cx="164.9" cy="272.0" r="5.3"/>
<circle class="q" cx="228.6" cy="264.9" r="3.9"/>
<circle class="q" cx="110.5" cy="280.0" r="6.0"/>
<circle class="q" cx="87.0" cy="279.8" r="5.1"/>
<circle class="q" cx="90.9" cy="282.7" r="4.8"/>
<circle class="q" cx="113.0" cy="279.0" r="5.9"/>
<circle class="q" cx="143.8" cy="280.5" r="4.3"/>
<circle class="q" cx="149.5" cy="275.4" r="4.7"/>
<circle class="q" cx="188.7" cy="257.8" r="4.1"/>
<circle class="q" cx="110.7" cy="277.7" r="5.6"/>
<circle class="q" cx="186.9" cy="277.7" r="4.4"/>
<circle class="q" cx="223.3" cy="272.1" r="5.0"/>
<circle class="q" cx="135.2" cy="281.8" r="5.3"/>
<circle class="q" cx="221.9" cy="264.4" r="4.8"/>
<circle class="q" cx="157.6" cy="271.5" r="4.1"/>
<circle class="q" cx="150.6" cy="269.6" r="4.4"/>
<circle class="q" cx="241.3" cy="259.7" r="4.3"/>
<circle class="q" cx="96.4" cy="279.4" r="5.0"/>
<circle class="q" cx="145.8" cy="275.3" r="5.5"/>
<circle class="q" cx="262.2" cy="266.6" r="4.2"/>
<circle class="q" cx="171.7" cy="265.0" r="5.4"/>
<circle class="q" cx="132.7" cy="274.6" r="5.1"/>
<circle class="q" cx="240.0" cy="255.6" r="4.6"/>
<circle class="q" cx="98.8" cy="281.8" r="5.9"/>
<circle class="q" cx="181.1" cy="271.1" r="5.4"/>
<circle class="q" cx="219.4" cy="262.2" r="4.6"/>
<circle class="q" cx="159.1" cy="275.0" r="4.1"/>
<circle class="q" cx="130.8" cy="273.9" r="4.7"/>
<circle class="q" cx="264.9" cy="261.7" r="4.6"/>
<circle class="q" cx="110.2" cy="277.0" r="5.8"/>
<circle class="q" cx="190.4" cy="270.7" r="4.5"/>
<circle class="q" cx="130.9" cy="280.6" r="5.1"/>
<circle class="q" cx="260.4" cy="254.3" r="4.3"/>
<circle class="q" cx="86.1" cy="281.9" r="5.3"/>
<circle class="q" cx="266.1" cy="246.3" r="4.8"/>
<circle class="q" cx="174.8" cy="264.1" r="4.9"/>
<circle class="q" cx="116.4" cy="281.3" r="5.8"/>
<circle class="q" cx="128.2" cy="278.3" r="5.6"/>
<circle class="q" cx="167.3" cy="278.4" r="4.5"/>
<circle class="q" cx="200.7" cy="274.1" r="4.2"/>
<circle class="q" cx="249.9" cy="262.1" r="5.1"/>
<circle class="q" cx="162.6" cy="268.7" r="4.4"/>
<circle class="q" cx="263.5" cy="260.2" r="3.9"/>
<circle class="q" cx="132.6" cy="280.4" r="5.2"/>
<circle class="q" cx="244.9" cy="266.9" r="3.9"/>
<circle class="q" cx="243.4" cy="273.5" r="3.9"/>
<circle class="q" cx="117.3" cy="281.7" r="6.0"/>
<circle class="q" cx="259.9" cy="270.0" r="3.6"/>
<circle class="q" cx="114.9" cy="276.5" r="5.7"/>
<circle class="q" cx="243.3" cy="248.5" r="5.2"/>
<circle class="q" cx="91.3" cy="279.1" r="5.4"/>
<circle class="q" cx="262.8" cy="266.9" r="4.1"/>
<circle class="q" cx="161.6" cy="275.7" r="4.3"/>
<circle class="q" cx="104.7" cy="280.0" r="5.1"/>
<circle class="q" cx="258.7" cy="263.2" r="5.0"/>
<circle class="q" cx="96.9" cy="280.3" r="4.6"/>
<circle class="q" cx="86.4" cy="281.7" r="5.7"/>
<circle class="q" cx="261.3" cy="263.2" r="5.0"/>
<circle class="q" cx="259.6" cy="254.2" r="4.2"/>
<circle class="q" cx="264.5" cy="268.0" r="4.6"/>
<circle class="q" cx="127.8" cy="275.3" r="4.3"/>
<circle class="q" cx="93.4" cy="279.9" r="5.7"/>
<circle class="q" cx="259.4" cy="267.1" r="3.6"/>
<circle class="q" cx="263.6" cy="262.0" r="4.0"/>
<circle class="q" cx="155.3" cy="275.5" r="4.8"/>
<circle class="q" cx="182.3" cy="270.9" r="4.0"/>
<circle class="q" cx="214.4" cy="262.5" r="4.4"/>
<circle class="q" cx="179.7" cy="268.8" r="4.8"/>
<circle class="q" cx="232.4" cy="269.6" r="4.3"/>
<circle class="q" cx="92.3" cy="282.4" r="5.1"/>
<circle class="q" cx="129.8" cy="277.2" r="4.2"/>
<circle class="q" cx="100.3" cy="283.4" r="5.2"/>
<circle class="q" cx="228.2" cy="254.1" r="4.8"/>
<circle class="q" cx="127.3" cy="276.1" r="4.6"/>
<circle class="q" cx="187.2" cy="260.0" r="3.7"/>
<circle class="q" cx="128.0" cy="275.4" r="5.3"/>
<circle class="q" cx="160.7" cy="273.7" r="5.3"/>
<circle class="q" cx="150.6" cy="271.9" r="5.1"/>
<circle class="q" cx="147.9" cy="276.3" r="4.6"/>
<circle class="q" cx="212.6" cy="267.6" r="4.2"/>
<circle class="q" cx="152.8" cy="275.4" r="4.8"/>
<circle class="q" cx="191.2" cy="267.2" r="4.3"/>
<circle class="q" cx="244.8" cy="262.2" r="4.3"/>
<circle class="q" cx="217.8" cy="253.4" r="4.2"/>
<circle class="q" cx="223.1" cy="255.9" r="3.8"/>
<circle class="q" cx="100.4" cy="280.2" r="5.8"/>
<circle class="q" cx="171.4" cy="274.2" r="4.1"/>
<circle class="q" cx="270.2" cy="250.1" r="5.0"/>
<circle class="q" cx="262.5" cy="250.8" r="4.0"/>
<circle class="q" cx="184.5" cy="264.2" r="4.4"/>
<circle class="q" cx="228.9" cy="254.3" r="5.0"/>
<circle class="q" cx="151.8" cy="274.1" r="4.7"/>
<circle class="q" cx="120.5" cy="278.7" r="6.1"/>
<circle class="q" cx="158.1" cy="270.9" r="4.9"/>
<circle class="q" cx="212.4" cy="268.8" r="4.9"/>
<circle class="q" cx="242.6" cy="258.4" r="3.7"/>
<circle class="q" cx="97.4" cy="278.8" r="5.5"/>
<circle class="q" cx="174.2" cy="271.8" r="5.1"/>
<circle class="q" cx="110.7" cy="277.1" r="6.1"/>
<circle class="q" cx="255.7" cy="264.4" r="4.3"/>
<circle class="q" cx="112.4" cy="280.8" r="4.6"/>
<circle class="q" cx="126.4" cy="276.5" r="4.9"/>
<circle class="q" cx="142.9" cy="273.0" r="5.3"/>
<circle class="q" cx="90.4" cy="281.4" r="5.1"/>
<circle class="q" cx="168.1" cy="269.9" r="5.2"/>
<circle class="q" cx="106.5" cy="282.8" r="6.1"/>
<circle class="q" cx="147.1" cy="275.2" r="5.2"/>
<circle class="q" cx="240.0" cy="260.4" r="4.6"/>
<circle class="q" cx="245.3" cy="253.3" r="5.0"/>
<circle class="q" cx="258.6" cy="270.2" r="4.2"/>
<circle class="q" cx="165.4" cy="276.3" r="4.4"/>
<circle class="q" cx="97.0" cy="278.2" r="5.5"/>
<circle class="q" cx="167.6" cy="271.3" r="4.1"/>
<circle class="q" cx="188.5" cy="264.1" r="4.2"/>
<circle class="q" cx="254.0" cy="270.6" r="4.1"/>
<circle class="q" cx="101.4" cy="277.9" r="6.0"/>
<circle class="q" cx="168.7" cy="271.7" r="4.3"/>
<circle class="q" cx="157.2" cy="267.9" r="4.3"/>
<circle class="q" cx="244.8" cy="275.7" r="3.6"/>
<circle class="q" cx="208.5" cy="270.3" r="4.0"/>
<circle class="q" cx="155.3" cy="270.7" r="4.8"/>
<circle class="q" cx="126.6" cy="280.8" r="5.0"/>
<circle class="q" cx="192.4" cy="258.3" r="5.2"/>
<circle class="q" cx="146.1" cy="274.8" r="5.3"/>
<circle class="q" cx="158.7" cy="266.9" r="4.7"/>
<circle class="q" cx="111.7" cy="276.1" r="5.1"/>
<circle class="q" cx="260.2" cy="266.1" r="5.2"/>
<circle class="q" cx="248.0" cy="263.9" r="4.8"/>
<circle class="q" cx="226.1" cy="268.2" r="3.7"/>
<circle class="q" cx="205.6" cy="259.8" r="4.8"/>
<circle class="q" cx="218.6" cy="272.4" r="4.9"/>
<circle class="q" cx="225.7" cy="260.1" r="5.0"/>
<circle class="q" cx="105.4" cy="281.3" r="6.1"/>
<circle class="q" cx="120.1" cy="277.1" r="5.3"/>
<circle class="q" cx="212.4" cy="274.1" r="4.2"/>
<circle class="q" cx="233.1" cy="252.7" r="4.2"/>
<circle class="q" cx="191.6" cy="272.2" r="4.9"/>
<circle class="q" cx="104.4" cy="279.4" r="5.9"/>
<circle class="q" cx="123.0" cy="281.8" r="4.6"/>
<circle class="q" cx="133.3" cy="277.7" r="5.1"/>
<circle class="q" cx="207.4" cy="272.4" r="3.7"/>
<circle class="q" cx="149.7" cy="281.4" r="4.4"/>
<circle class="q" cx="174.4" cy="270.2" r="5.5"/>
<circle class="q" cx="113.7" cy="275.7" r="5.4"/>
<circle class="q" cx="230.2" cy="257.7" r="4.0"/>
<circle class="q" cx="177.0" cy="279.1" r="4.6"/>
<circle class="q" cx="196.8" cy="277.5" r="4.3"/>
<circle class="q" cx="152.2" cy="277.6" r="4.8"/>
<circle class="q" cx="260.2" cy="268.9" r="3.7"/>
<circle class="q" cx="219.7" cy="269.7" r="5.0"/>
<circle class="q" cx="109.2" cy="281.6" r="6.1"/>
<circle class="q" cx="92.9" cy="281.9" r="5.2"/>
<circle class="q" cx="136.9" cy="277.0" r="4.9"/>
<circle class="q" cx="206.3" cy="278.6" r="4.2"/>
<circle class="q" cx="113.6" cy="281.7" r="5.5"/>
<circle class="q" cx="177.4" cy="262.0" r="5.4"/>
<circle class="q" cx="94.1" cy="280.5" r="5.0"/>
<circle class="q" cx="140.2" cy="272.8" r="5.5"/>
<circle class="q" cx="131.3" cy="277.1" r="4.6"/>
<circle class="q" cx="248.1" cy="271.9" r="4.3"/>
<circle class="q" cx="111.9" cy="279.3" r="5.8"/>
<circle class="q" cx="134.1" cy="281.8" r="4.6"/>
<circle class="q" cx="131.3" cy="274.3" r="5.2"/>
<circle class="q" cx="253.7" cy="251.1" r="4.0"/>
<circle class="q" cx="206.6" cy="271.7" r="4.3"/>
<circle class="q" cx="258.6" cy="264.7" r="4.6"/>
<circle class="q" cx="218.1" cy="262.4" r="4.1"/>
<circle class="q" cx="241.4" cy="264.5" r="4.5"/>
<circle class="q" cx="145.5" cy="274.9" r="4.1"/>
<circle class="q" cx="188.5" cy="269.5" r="4.2"/>
<circle class="q" cx="235.4" cy="268.7" r="3.8"/>
<circle class="q" cx="246.3" cy="271.9" r="4.8"/>
<circle class="q" cx="211.2" cy="266.2" r="4.7"/>
<circle class="q" cx="232.9" cy="252.0" r="4.0"/>
<circle class="q" cx="260.0" cy="254.3" r="4.9"/>
<circle class="q" cx="143.0" cy="276.7" r="4.0"/>
<circle class="q" cx="164.7" cy="277.1" r="4.9"/>
<circle class="q" cx="124.9" cy="277.0" r="5.0"/>
<circle class="q" cx="227.3" cy="274.5" r="3.9"/>
<circle class="q" cx="224.6" cy="262.2" r="3.6"/>
<circle class="q" cx="214.9" cy="262.9" r="4.5"/>
<circle class="q" cx="240.7" cy="271.6" r="5.2"/>
<circle class="q" cx="265.0" cy="249.7" r="4.4"/>
<circle class="q" cx="166.3" cy="266.1" r="4.5"/>
<circle class="q" cx="217.0" cy="262.9" r="4.4"/>
<circle class="q" cx="132.3" cy="280.7" r="4.9"/>
<circle class="q" cx="250.1" cy="263.9" r="4.8"/>
<circle class="q" cx="239.9" cy="264.4" r="4.8"/>
<circle class="q" cx="198.3" cy="260.6" r="5.2"/>
<circle class="q" cx="246.3" cy="256.9" r="4.9"/>
<circle class="q" cx="224.4" cy="279.8" r="4.4"/>
<circle class="q" cx="232.4" cy="251.7" r="3.8"/>
<circle class="q" cx="129.8" cy="283.5" r="4.0"/>
<circle class="q" cx="267.6" cy="257.1" r="4.8"/>
<circle class="q" cx="86.8" cy="281.2" r="4.9"/>
<circle class="q" cx="226.0" cy="252.6" r="4.3"/>
<circle class="q" cx="142.7" cy="280.8" r="5.0"/>
<circle class="q" cx="128.3" cy="277.1" r="5.4"/>
<circle class="q" cx="120.5" cy="279.8" r="5.3"/>
<circle class="q" cx="96.7" cy="277.9" r="5.7"/>
<circle class="q" cx="213.0" cy="269.7" r="4.0"/>
<circle class="q" cx="248.1" cy="249.1" r="4.6"/>
<circle class="q" cx="155.1" cy="279.1" r="5.3"/>
<circle class="q" cx="101.4" cy="280.9" r="6.2"/>
<circle class="q" cx="252.0" cy="267.0" r="4.0"/>
<circle class="q" cx="131.8" cy="272.5" r="4.2"/>
<circle class="q" cx="212.3" cy="272.3" r="3.9"/>
<circle class="q" cx="226.2" cy="274.3" r="5.0"/>
<circle class="q" cx="232.3" cy="267.8" r="4.4"/>
<circle class="q" cx="94.3" cy="279.0" r="5.4"/>
<circle class="q" cx="88.8" cy="281.9" r="5.9"/>
<circle class="q" cx="121.8" cy="275.8" r="4.7"/>
<circle class="q" cx="101.4" cy="281.9" r="5.7"/>
<circle class="q" cx="139.0" cy="273.6" r="5.2"/>
<circle class="q" cx="85.7" cy="279.5" r="4.6"/>
<circle class="q" cx="166.5" cy="275.0" r="4.7"/>
<circle class="q" cx="227.9" cy="271.7" r="5.1"/>
<circle class="q" cx="237.5" cy="273.9" r="4.3"/>
<circle class="q" cx="211.7" cy="259.3" r="4.0"/>
<circle class="q" cx="164.2" cy="276.1" r="5.6"/>
<circle class="q" cx="263.5" cy="251.8" r="4.8"/>
<circle class="q" cx="126.0" cy="282.0" r="5.4"/>
<circle class="q" cx="244.7" cy="261.9" r="4.9"/>
<circle class="q" cx="197.4" cy="268.1" r="4.2"/>
<circle class="q" cx="201.5" cy="277.6" r="4.5"/>
<circle class="q" cx="258.6" cy="251.5" r="3.7"/>
<circle class="q" cx="131.3" cy="282.1" r="5.1"/>
<circle class="q" cx="208.8" cy="270.3" r="4.8"/>
<circle class="q" cx="208.9" cy="261.6" r="3.9"/>
<circle class="q" cx="202.6" cy="269.1" r="4.6"/>
<circle class="q" cx="87.1" cy="279.3" r="5.1"/>
<circle class="q" cx="208.3" cy="270.3" r="4.0"/>
<circle class="q" cx="158.1" cy="272.3" r="5.1"/>
<circle class="q" cx="146.1" cy="269.6" r="5.3"/>
<circle class="q" cx="229.0" cy="254.5" r="4.7"/>
<circle class="q" cx="112.9" cy="279.7" r="5.6"/>
<circle class="q" cx="102.0" cy="279.5" r="6.2"/>
<circle class="q" cx="96.2" cy="282.9" r="4.5"/>
<circle class="q" cx="214.6" cy="271.5" r="3.8"/>
<circle class="q" cx="104.6" cy="281.6" r="4.9"/>
<circle class="q" cx="124.8" cy="275.5" r="4.3"/>
<circle class="q" cx="169.4" cy="264.7" r="5.4"/>
<circle class="q" cx="89.8" cy="279.1" r="5.2"/>
<circle class="q" cx="105.7" cy="277.2" r="5.3"/>
<circle class="q" cx="96.7" cy="280.5" r="5.1"/>
<circle class="q" cx="124.5" cy="280.0" r="5.2"/>
<circle class="q" cx="104.3" cy="279.5" r="6.1"/>
<circle class="q" cx="122.7" cy="276.8" r="4.1"/>
<circle class="q" cx="97.9" cy="279.0" r="5.3"/>
<circle class="q" cx="106.0" cy="279.0" r="6.2"/>
<circle class="q" cx="177.1" cy="268.9" r="4.0"/>
<circle class="q" cx="174.3" cy="272.4" r="5.0"/>
<circle class="q" cx="217.8" cy="261.7" r="5.0"/>
<circle class="q" cx="192.1" cy="256.3" r="5.0"/>
<circle class="q" cx="109.8" cy="281.9" r="4.8"/>
<circle class="q" cx="206.7" cy="276.5" r="3.6"/>
<circle class="q" cx="255.2" cy="272.6" r="4.4"/>
<circle class="q" cx="120.8" cy="278.7" r="6.2"/>
<circle class="q" cx="157.8" cy="274.9" r="4.5"/>
<circle class="q" cx="233.5" cy="265.0" r="3.6"/>
<circle class="p o" cx="270.0" cy="245.2" r="3.5"/>
<circle class="p o" cx="169.8" cy="268.6" r="4.1"/>
<circle class="p o" cx="213.3" cy="267.6" r="4.1"/>
<circle class="p o" cx="240.8" cy="256.5" r="4.2"/>
<circle class="p o" cx="131.2" cy="278.0" r="3.4"/>
<circle class="p o" cx="145.8" cy="269.4" r="3.5"/>
<circle class="p o" cx="250.1" cy="270.0" r="4.0"/>
<circle class="p o" cx="229.3" cy="250.2" r="4.1"/>
<circle class="p o" cx="184.9" cy="277.7" r="4.1"/>
<circle class="p o" cx="233.8" cy="269.7" r="4.6"/>
<circle class="p o" cx="263.7" cy="266.2" r="4.2"/>
<circle class="p o" cx="132.5" cy="280.3" r="3.7"/>
<circle class="p o" cx="277.6" cy="248.2" r="4.2"/>
<circle class="p o" cx="144.9" cy="274.6" r="4.3"/>
<circle class="p o" cx="250.0" cy="257.7" r="4.2"/>
<circle class="p o" cx="248.7" cy="249.8" r="3.2"/>
<circle class="p o" cx="264.1" cy="246.5" r="3.9"/>
<circle class="p o" cx="191.1" cy="263.9" r="3.5"/>
<circle class="p o" cx="226.4" cy="254.5" r="3.9"/>
<circle class="p o" cx="213.2" cy="268.8" r="4.3"/>
<circle class="p o" cx="132.9" cy="282.5" r="3.9"/>
<circle class="p o" cx="137.3" cy="283.7" r="3.5"/>
<circle class="p o" cx="254.4" cy="267.7" r="4.6"/>
<circle class="p" cx="118.1" cy="260.0" r="3.8"/>
<circle class="p" cx="158.6" cy="254.3" r="4.0"/>
<circle class="p" cx="168.8" cy="257.3" r="4.5"/>
<circle class="p" cx="301.5" cy="234.5" r="3.3"/>
<circle class="p" cx="319.2" cy="236.1" r="3.3"/>
<circle class="p" cx="325.9" cy="243.5" r="3.4"/>
<circle class="p" cx="330.8" cy="243.0" r="3.0"/>
<circle class="p" cx="346.2" cy="245.0" r="2.2"/>
<circle class="p" cx="357.1" cy="247.2" r="3.0"/>
<circle class="p" cx="330.4" cy="250.3" r="3.0"/>
<circle class="p" cx="342.4" cy="252.5" r="2.5"/>
<circle class="p" cx="315.9" cy="251.6" r="3.0"/>
<circle class="p" cx="300.3" cy="250.4" r="3.3"/>
<circle class="p" cx="290.5" cy="250.4" r="3.3"/>
<circle class="p" cx="288.4" cy="242.7" r="3.3"/>
<circle class="p" cx="294.6" cy="262.4" r="3.5"/>
<circle class="p" cx="284.8" cy="268.9" r="3.3"/>
<circle class="p" cx="281.5" cy="268.9" r="3.0"/>
<circle class="p" cx="304.4" cy="272.2" r="3.8"/>
<circle class="p" cx="327.0" cy="273.9" r="4.8"/>
<circle class="p" cx="338.9" cy="266.8" r="3.8"/>
<circle class="p" cx="279.8" cy="263.5" r="3.5"/>
<circle class="p" cx="338.6" cy="264.3" r="3.0"/>
<circle class="p" cx="83.3" cy="281.5" r="4.6"/>
<circle class="p" cx="88.5" cy="278.6" r="4.6"/>
<circle class="q" cx="178.9" cy="250.2" r="4.0"/>
<circle class="q" cx="198.4" cy="248.3" r="4.0"/>
<circle class="q" cx="192.4" cy="252.8" r="3.5"/>
<circle class="q" cx="146.8" cy="261.0" r="3.5"/>
<circle class="q" cx="259.6" cy="236.6" r="3.5"/>
<circle class="q" cx="292.1" cy="242.2" r="3.2"/>
<circle class="q" cx="323.3" cy="255.4" r="3.0"/>
<circle class="q" cx="334.7" cy="258.9" r="3.0"/>
<circle class="q" cx="334.8" cy="266.8" r="3.0"/>
<circle class="q" cx="309.3" cy="257.5" r="3.0"/>
<circle class="q" cx="297.0" cy="260.2" r="3.0"/>
<circle class="q" cx="242.7" cy="280.1" r="5.0"/>
<circle class="q" cx="63.0" cy="280.5" r="4.6"/>
</g>
<line x1="63.1" y1="289.4" x2="336.8" y2="248.2" stroke="#111" stroke-width="1.7"/>
<line x1="341.3" y1="247.5" x2="347.6" y2="246.6" stroke="#111" stroke-width="1.7"/>
<line x1="352.8" y1="245.8" x2="356.7" y2="245.2" stroke="#111" stroke-width="1.7"/>
<g clip-path="url(#cb)">
<circle class="g" cx="639.3" cy="25.1" r="2.2"/>
<circle class="g" cx="634.5" cy="26.3" r="1.2"/>
<circle class="g" cx="643.3" cy="29.5" r="1.5"/>
<circle class="g" cx="644.0" cy="33.5" r="1.8"/>
<circle class="g" cx="642.7" cy="41.0" r="1.5"/>
<circle class="g" cx="641.3" cy="44.7" r="1.0"/>
<circle class="g" cx="615.4" cy="45.7" r="2.0"/>
<circle class="g" cx="644.4" cy="51.9" r="1.5"/>
<circle class="g" cx="639.3" cy="56.0" r="1.5"/>
<circle class="g" cx="644.0" cy="57.9" r="2.2"/>
<circle class="g" cx="632.1" cy="68.1" r="1.7"/>
<circle class="g" cx="632.2" cy="72.1" r="1.5"/>
<circle class="g" cx="640.4" cy="70.5" r="1.3"/>
<circle class="g" cx="643.3" cy="68.8" r="1.3"/>
<circle class="g" cx="640.8" cy="74.6" r="1.3"/>
<circle class="g" cx="642.4" cy="74.6" r="1.0"/>
<circle class="g" cx="646.2" cy="73.0" r="1.3"/>
<circle class="g" cx="646.2" cy="74.9" r="1.3"/>
<circle class="g" cx="641.3" cy="76.2" r="1.0"/>
<circle class="g" cx="642.8" cy="82.6" r="1.8"/>
<circle class="g" cx="649.6" cy="85.9" r="1.5"/>
<circle class="g" cx="626.2" cy="88.4" r="2.2"/>
<circle class="g" cx="635.9" cy="88.2" r="1.2"/>
<circle class="g" cx="639.4" cy="91.5" r="1.2"/>
<circle class="g" cx="599.8" cy="90.3" r="2.0"/>
<circle class="g" cx="605.8" cy="101.1" r="1.0"/>
<circle class="g" cx="619.2" cy="100.6" r="2.5"/>
<circle class="g" cx="624.0" cy="105.5" r="0.8"/>
<circle class="g" cx="635.5" cy="104.2" r="2.3"/>
<circle class="g" cx="585.1" cy="105.3" r="1.5"/>
<circle class="g" cx="593.5" cy="108.2" r="1.8"/>
<circle class="g" cx="639.2" cy="114.9" r="1.3"/>
<circle class="g" cx="649.3" cy="116.8" r="1.7"/>
<circle class="g" cx="581.1" cy="119.3" r="2.0"/>
<circle class="g" cx="595.2" cy="121.6" r="2.4"/>
<circle class="g" cx="604.4" cy="119.8" r="2.3"/>
<circle class="g" cx="627.1" cy="119.2" r="1.7"/>
<circle class="g" cx="612.9" cy="123.9" r="1.8"/>
<circle class="g" cx="644.9" cy="122.2" r="1.5"/>
<circle class="g" cx="646.7" cy="121.6" r="1.3"/>
<circle class="g" cx="645.6" cy="124.4" r="1.3"/>
<circle class="g" cx="628.4" cy="128.0" r="2.3"/>
<circle class="g" cx="642.2" cy="129.1" r="1.5"/>
<circle class="g" cx="645.2" cy="128.7" r="1.3"/>
<circle class="g" cx="647.5" cy="129.5" r="1.3"/>
<circle class="g" cx="646.0" cy="132.1" r="1.3"/>
<circle class="g" cx="643.5" cy="133.7" r="1.3"/>
<circle class="g" cx="622.5" cy="134.6" r="1.8"/>
<circle class="g" cx="601.9" cy="137.2" r="1.7"/>
<circle class="g" cx="642.1" cy="142.0" r="1.7"/>
<circle class="g" cx="640.2" cy="145.4" r="2.0"/>
<circle class="g" cx="636.3" cy="146.8" r="2.0"/>
<circle class="g" cx="627.2" cy="146.8" r="2.2"/>
<circle class="g" cx="631.6" cy="149.1" r="1.5"/>
<circle class="g" cx="626.4" cy="155.0" r="1.2"/>
<circle class="g" cx="641.3" cy="156.9" r="1.2"/>
<circle class="g" cx="610.5" cy="168.2" r="1.2"/>
<circle class="g" cx="616.8" cy="171.6" r="1.8"/>
<circle class="g" cx="562.5" cy="131.5" r="1.5"/>
<circle class="g" cx="569.8" cy="134.3" r="2.0"/>
<circle class="g" cx="576.9" cy="133.0" r="1.7"/>
<circle class="g" cx="553.9" cy="146.2" r="1.5"/>
<circle class="g" cx="570.5" cy="143.0" r="2.5"/>
<circle class="g" cx="585.3" cy="160.3" r="2.0"/>
<circle class="g" cx="537.4" cy="165.3" r="1.2"/>
<circle class="g" cx="540.4" cy="170.2" r="1.2"/>
<circle class="g" cx="565.0" cy="170.4" r="1.8"/>
<circle class="g" cx="539.6" cy="186.0" r="2.4"/>
<circle class="g" cx="568.6" cy="186.3" r="1.3"/>
<circle class="g" cx="574.4" cy="186.4" r="1.8"/>
<circle class="g" cx="510.9" cy="128.8" r="1.3"/>
<circle class="g" cx="474.4" cy="201.0" r="2.4"/>
<circle class="g" cx="487.3" cy="206.5" r="2.3"/>
<circle class="g" cx="496.1" cy="202.0" r="2.0"/>
<circle class="g" cx="501.5" cy="196.8" r="2.0"/>
<circle class="g" cx="500.9" cy="205.8" r="1.3"/>
<circle class="g" cx="503.7" cy="205.8" r="1.3"/>
<circle class="g" cx="444.8" cy="217.3" r="1.5"/>
<circle class="g" cx="446.8" cy="231.1" r="2.5"/>
<circle class="g" cx="454.7" cy="231.1" r="1.5"/>
<circle class="g" cx="438.3" cy="235.8" r="3.0"/>
<circle class="g" cx="446.6" cy="240.7" r="2.5"/>
<circle class="g" cx="436.0" cy="243.2" r="2.2"/>
<circle class="g" cx="437.2" cy="251.3" r="1.5"/>
<circle class="g" cx="438.2" cy="255.0" r="3.0"/>
<circle class="g" cx="430.9" cy="254.7" r="2.8"/>
<circle class="g" cx="425.5" cy="255.3" r="3.0"/>
<circle class="g" cx="414.4" cy="259.6" r="3.2"/>
<circle class="g" cx="429.5" cy="262.9" r="2.8"/>
<circle class="g" cx="418.2" cy="265.7" r="3.5"/>
<circle class="g" cx="416.9" cy="273.5" r="3.8"/>
<circle class="g" cx="409.0" cy="272.7" r="3.5"/>
<circle class="g" cx="411.2" cy="275.3" r="3.0"/>
<circle class="g" cx="406.4" cy="277.5" r="3.0"/>
<circle class="g" cx="406.0" cy="281.0" r="3.5"/>
<circle class="g" cx="403.8" cy="278.8" r="2.5"/>
<circle class="g" cx="399.4" cy="277.5" r="3.5"/>
<circle class="g" cx="395.5" cy="280.5" r="5.0"/>
<circle class="g" cx="398.1" cy="281.4" r="5.7"/>
</g>
<line x1="397.0" y1="278.5" x2="649.5" y2="88.2" stroke="#111" stroke-width="1.7"/>
<g fill="#303030">
<rect x="60.9" y="7.4" width="1.3" height="297.3"/>
<rect x="60.9" y="303.2" width="622.4" height="1.5" fill="#333"/>
<rect x="681.9" y="7.4" width="1.3" height="297.3"/>
<rect x="60.9" y="7.35" width="622.3" height="1.3" fill="#222"/>
<rect x="371.25" y="8" width="1.4" height="295.5" fill="#333"/>
</g>
<path d="M61.5 284.20H68.60 M61.5 264.48H65.10 M61.5 244.76H68.60 M61.5 225.04H65.10 M61.5 205.32H68.60 M61.5 185.60H65.10 M61.5 165.88H68.60 M61.5 146.16H65.10 M61.5 126.44H68.60 M61.5 106.72H65.10 M61.5 87.00H68.60 M61.5 67.28H65.10 M61.5 47.56H68.60 M61.5 27.84H65.10 M71.50 303.6V300.30 M81.50 303.6V300.30 M91.50 303.6V300.30 M101.50 303.6V300.30 M111.50 303.6V297.00 M121.50 303.6V300.30 M131.50 303.6V300.30 M141.50 303.6V300.30 M151.50 303.6V300.30 M161.50 303.6V297.00 M171.50 303.6V300.30 M181.50 303.6V300.30 M191.50 303.6V300.30 M201.50 303.6V300.30 M211.50 303.6V297.00 M221.50 303.6V300.30 M231.50 303.6V300.30 M241.50 303.6V300.30 M251.50 303.6V300.30 M261.50 303.6V297.00 M271.50 303.6V300.30 M281.50 303.6V300.30 M291.50 303.6V300.30 M301.50 303.6V300.30 M311.50 303.6V297.00 M321.50 303.6V300.30 M331.50 303.6V300.30 M341.50 303.6V300.30 M351.50 303.6V300.30 M361.50 303.6V297.00 M385.74 303.6V300.30 M399.88 303.6V297.00 M414.02 303.6V300.30 M428.16 303.6V297.00 M442.30 303.6V300.30 M456.44 303.6V297.00 M470.58 303.6V300.30 M484.72 303.6V297.00 M498.86 303.6V300.30 M513.00 303.6V297.00 M527.14 303.6V300.30 M541.28 303.6V297.00 M555.42 303.6V300.30 M569.56 303.6V297.00 M583.70 303.6V300.30 M597.84 303.6V297.00 M611.98 303.6V300.30 M626.12 303.6V297.00 M640.26 303.6V300.30 M654.40 303.6V297.00 M668.54 303.6V300.30" stroke="#222" stroke-width="1.1" fill="none"/>
<g font-size="16.5" fill="#1a1a1a" text-anchor="end">
<text x="55.1" y="289.6">0</text>
<text x="55.1" y="250.2">10</text>
<text x="55.1" y="210.7">20</text>
<text x="55.1" y="171.3">30</text>
<text x="55.1" y="131.8">40</text>
<text x="55.1" y="92.4">50</text>
<text x="55.1" y="53.0">60</text>
<text x="55.1" y="13.5">70</text>
</g>
<g font-size="16.5" fill="#1a1a1a" text-anchor="middle">
<text x="62.5" y="323.5">0</text>
<text x="112.5" y="323.5">5</text>
<text x="162.5" y="323.5">10</text>
<text x="212.5" y="323.5">15</text>
<text x="262.5" y="323.5">20</text>
<text x="312.5" y="323.5">25</text>
<text x="355.2" y="323.5">30</text>
<text x="401.2" y="323.5">10</text>
<text x="429.5" y="323.5">20</text>
<text x="457.7" y="323.5">30</text>
<text x="486.0" y="323.5">40</text>
<text x="514.3" y="323.5">50</text>
<text x="542.6" y="323.5">60</text>
<text x="570.9" y="323.5">70</text>
<text x="599.1" y="323.5">80</text>
<text x="627.4" y="323.5">90</text>
<text x="655.7" y="323.5">100</text>
</g>
<text x="0" y="0" font-size="17.7" fill="#111" transform="translate(15.3 158.8) rotate(-90)" text-anchor="middle">Total organic carbon (%)</text>
<text x="371.5" y="359.7" font-size="17.7" fill="#111" text-anchor="middle">Loss on ignition (%)</text>
<text x="80.9" y="43.2" font-size="21" fill="#111">a</text><text x="93.6" y="43.3" font-size="21.5" fill="#111">)</text>
<text x="106.8" y="42.8" font-size="16" fill="#4a4a4a" textLength="77.3" lengthAdjust="spacingAndGlyphs">Mangroves:</text>
<circle cx="195.7" cy="37.5" r="4.0" fill="#d6ebef" stroke="#a0b4b8" stroke-width="0.6"/>
<text x="207.4" y="42.8" font-size="15.5" fill="#505050" textLength="50.1" lengthAdjust="spacingAndGlyphs">Marine</text>
<g font-size="10" fill="#222">
<text x="191.2" y="54.4">y = 0.38<tspan font-style="italic">X</tspan> - 1.39</text>
<text x="191.2" y="68.1">RMSE = 1.13</text>
<text x="191.2" y="81.5">R<tspan font-size="6.5" dy="-4">2</tspan><tspan dy="4"> = 0.65</tspan></text>
</g>
<circle cx="196.2" cy="97.8" r="4.0" fill="#c6b8dd" stroke="#9a8cae" stroke-width="0.6"/>
<text x="207.6" y="101.9" font-size="15.5" fill="#505050" textLength="60.8" lengthAdjust="spacingAndGlyphs">Riparian</text>
<g font-size="10" fill="#222">
<text x="191.2" y="114.5">y = 0.37<tspan font-style="italic">X</tspan> - 1.02</text>
<text x="191.2" y="128.6">RMSE = 1.27</text>
<text x="191.2" y="141.7">R<tspan font-size="6.5" dy="-4">2</tspan><tspan dy="4"> = 0.60</tspan></text>
</g>
<text x="386.6" y="43.4" font-size="21" fill="#111">b</text><text x="399.9" y="43.1" font-size="21.5" fill="#111">)</text>
<circle cx="417.4" cy="39.2" r="4.3" fill="#cde6d3" stroke="#a8c0ae" stroke-width="0.6"/>
<text x="428.8" y="43.3" font-size="15.4" fill="#505050" textLength="135.2" lengthAdjust="spacingAndGlyphs">Forested wetlands</text>
<g font-size="10" fill="#222">
<text x="412.8" y="56">y = 0.54<tspan font-style="italic">X</tspan> - 3.4</text>
<text x="412.8" y="70">RMSE = 7.36</text>
<text x="412.8" y="83.5">R<tspan font-size="6.5" dy="-4">2</tspan><tspan dy="4"> = 0.86</tspan></text>
</g>
<text x="562.5" y="247.6" font-size="10.3" fill="#444" textLength="92" lengthAdjust="spacingAndGlyphs">Bulk density (g cm<tspan font-size="7" dy="-4">-3</tspan><tspan dy="4">)</tspan></text>
<circle cx="569.2" cy="258.3" r="5.2" fill="#fff" stroke="#666" stroke-width="0.8"/>
<circle cx="569.3" cy="273.0" r="3.6" fill="#fff" stroke="#666" stroke-width="0.8"/>
<circle cx="569.3" cy="285.8" r="1.4" fill="#fff" stroke="#555" stroke-width="0.7"/>
<g font-size="10.5" fill="#333">
<text x="579.4" y="261.5">1</text>
<text x="579.4" y="276.8">0.5</text>
<text x="579.4" y="289.2">0.05</text>
</g>
</svg></body></html>
